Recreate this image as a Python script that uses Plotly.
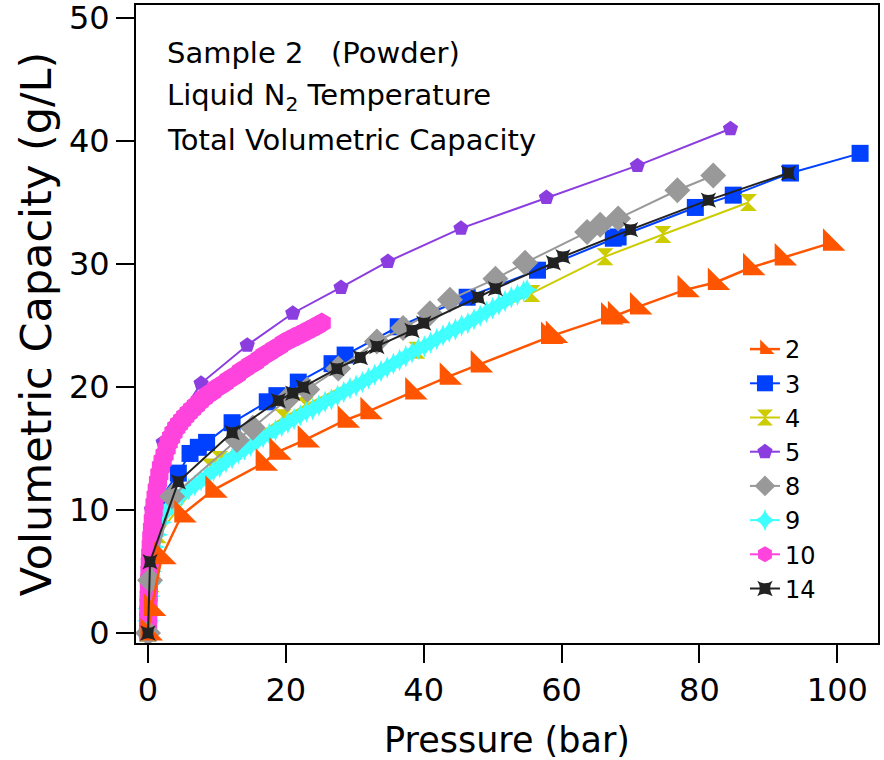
import plotly.graph_objects as go

# ---------------- data ----------------
s2_x = [0, 0.5, 2.0, 4.9, 9.4, 16.7, 18.7, 22.8, 28.6, 31.9, 38.4, 43.4, 47.9, 58.1, 58.8, 66.8, 67.8, 71.0, 77.9, 82.3, 87.4, 92.0, 99.0]
s2_y = [0, 2.0, 6.2, 9.6, 11.6, 13.8, 14.7, 15.7, 17.3, 18.0, 19.6, 20.8, 21.8, 24.1, 24.2, 25.7, 25.8, 26.5, 27.9, 28.5, 29.7, 30.5, 31.7]

s3_x = [0, 0.05, 0.2, 0.5, 1.0, 1.9, 4.4, 6.1, 7.3, 8.5, 12.2, 17.3, 18.7, 21.8, 26.7, 28.6, 36.3, 46.3, 56.5, 67.5, 68.2, 79.4, 84.9, 93.2, 103.3]
s3_y = [0, 1.5, 4.0, 7.0, 9.7, 11.0, 13.0, 14.6, 15.1, 15.5, 17.1, 18.8, 19.3, 20.4, 21.9, 22.6, 24.9, 27.3, 29.5, 32.1, 32.2, 34.6, 35.6, 37.4, 39.0]

s4_x = [0, 0.1, 0.5, 1.5, 9.0, 10.4, 19.6, 22.8, 39.0, 55.7, 66.3, 74.7, 87.1]
s4_y = [0, 1.0, 4.0, 8.0, 13.5, 14.1, 17.5, 18.5, 23.0, 27.6, 30.6, 32.4, 35.0]

s5_x = [0, 0.5, 2.2, 7.7, 14.4, 21.0, 28.0, 34.8, 45.4, 57.8, 71.0, 84.5]
s5_y = [0, 10.0, 15.5, 20.3, 23.4, 26.0, 28.1, 30.2, 32.9, 35.4, 38.0, 41.0]

s8_x = [0, 0.3, 3.5, 12.9, 15.2, 20.2, 23.1, 27.6, 33.2, 37.0, 40.9, 43.8, 50.4, 54.7, 63.7, 65.6, 68.2, 76.8, 82.0]
s8_y = [0, 4.3, 11.1, 15.7, 16.7, 19.0, 19.8, 21.5, 23.7, 24.8, 26.0, 27.1, 28.8, 30.1, 32.6, 33.2, 33.7, 36.0, 37.2]

s9_x = [0, 0.05, 0.1, 0.2, 0.3, 0.45, 0.6, 0.9, 1.3, 1.9, 2.6, 3.4, 4.2, 5.0, 5.9, 6.8, 7.7, 8.6, 9.5, 10.4,
        11.3, 12.2, 13.1, 14.0, 14.9, 15.8, 16.7, 17.6, 18.5, 19.4, 20.3, 21.2, 22.1, 23.0, 23.9, 24.8, 25.7,
        26.6, 27.5, 28.4, 29.3, 30.2, 31.1, 32.0, 32.9, 33.8, 34.7, 35.6, 36.5, 37.4, 38.3, 39.2, 40.1, 41.0,
        41.9, 42.8, 43.7, 44.6, 45.5, 46.4, 47.3, 48.2, 49.1, 50.0, 50.9, 51.8, 52.7, 53.6, 54.5, 55.0]
s9_y = [0, 1, 2, 3, 4, 5, 6, 7, 8, 9, 9.8, 10.4, 10.9, 11.3, 11.7, 12.0, 12.4, 12.8, 13.2, 13.5,
        13.9, 14.2, 14.6, 14.9, 15.2, 15.6, 15.9, 16.2, 16.5, 16.8, 17.1, 17.4, 17.7, 18.0, 18.2, 18.5, 18.8,
        19.0, 19.3, 19.6, 19.9, 20.1, 20.4, 20.7, 21.0, 21.3, 21.6, 21.9, 22.2, 22.5, 22.8, 23.1, 23.3, 23.6,
        23.9, 24.2, 24.5, 24.7, 25.0, 25.2, 25.5, 25.8, 26.1, 26.4, 26.7, 27.0, 27.3, 27.5, 27.8, 27.9]

s10_x = [0, 0.01, 0.03, 0.05, 0.07, 0.1, 0.13, 0.17, 0.21, 0.26, 0.32, 0.4, 0.48, 0.58, 0.7, 0.82, 0.95,
         1.1, 1.27, 1.45, 1.65, 1.88, 2.12, 2.4, 2.7, 3.0, 3.35, 3.7, 4.1, 4.5, 4.95, 5.4, 5.9, 6.4, 6.95,
         7.5, 8.1, 8.7, 9.3, 9.9, 10.5, 11.1, 11.7, 12.3, 12.9, 13.5, 14.1, 14.8, 15.5, 16.2, 16.9, 17.6,
         18.3, 19.0, 19.7, 20.4, 21.1, 21.8, 22.5, 23.2, 23.9, 24.6, 25.2]
s10_y = [0, 0.6, 1.2, 1.8, 2.4, 3.0, 3.6, 4.3, 5.0, 5.7, 6.4, 7.1, 7.8, 8.5, 9.2, 9.9, 10.5,
         11.1, 11.7, 12.3, 12.9, 13.5, 14.0, 14.5, 15.0, 15.5, 15.9, 16.3, 16.7, 17.0, 17.3, 17.6, 17.9, 18.2, 18.5,
         18.8, 19.1, 19.4, 19.6, 19.9, 20.1, 20.3, 20.6, 20.8, 21.0, 21.3, 21.5, 21.8, 22.0, 22.3, 22.6, 22.8,
         23.1, 23.3, 23.6, 23.8, 24.0, 24.2, 24.4, 24.6, 24.8, 25.0, 25.2]

s14_x = [0, 0.3, 4.4, 12.2, 18.9, 21.0, 22.5, 27.4, 30.8, 33.2, 38.3, 40.0, 47.9, 50.4, 58.8, 60.2, 70.0, 81.3, 92.9]
s14_y = [0, 5.8, 12.3, 16.3, 18.9, 19.5, 20.0, 21.5, 22.4, 23.3, 24.6, 25.2, 27.3, 28.0, 30.1, 30.6, 32.8, 35.2, 37.4]

x_ticks = [0, 20, 40, 60, 80, 100]
y_ticks = [0, 10, 20, 30, 40, 50]

FONT = "DejaVu Sans"

# (name, x, y, color, symbol, size, linewidth, legendrank) in drawing order
series = [
    ("5", s5_x, s5_y, "#8B3DE0", "pentagon", 16, 2, 4),
    ("3", s3_x, s3_y, "#0040FF", "square", 17, 2, 2),
    ("4", s4_x, s4_y, "#CCCC00", "hourglass", 17, 2, 3),
    ("9", s9_x, s9_y, "#40FFFF", "star-diamond", 16, 2, 6),
    ("10", s10_x, s10_y, "#FF44DD", "hexagon", 21, 2, 7),
    ("8", s8_x, s8_y, "#999999", "diamond", 20, 2, 5),
    ("2", s2_x, s2_y, "#FF5500", "triangle-sw", 25, 2.5, 1),
    ("14", s14_x, s14_y, "#222222", "star-square", 14, 2, 8),
]

fig = go.Figure()
for name, xs, ys, col, sym, sz, lw, rank in series:
    fig.add_trace(go.Scatter(
        x=xs, y=ys, name=name, mode="lines+markers",
        line=dict(color=col, width=lw),
        marker=dict(symbol=sym, size=sz, color=col, line=dict(width=0)),
        legendrank=rank,
    ))

axis_common = dict(
    showline=True, linecolor="black", linewidth=2, mirror=True,
    ticks="outside", ticklen=18, tickwidth=2, tickcolor="black",
    showgrid=False, zeroline=False, automargin=False,
    ticklabeloverflow="allow",
    tickfont=dict(family=FONT, size=32, color="black"),
)

fig.update_layout(
    width=884, height=760,
    margin=dict(l=136, r=6, t=5, b=117),
    paper_bgcolor="white", plot_bgcolor="white",
    font=dict(family=FONT, color="black"),
    xaxis=dict(range=[-1.74, 105.9], tickvals=x_ticks,
               title=dict(text="Pressure (bar)", font=dict(family=FONT, size=35), standoff=19),
               **axis_common),
    yaxis=dict(range=[-0.81, 51.06], tickvals=y_ticks,
               title=dict(text="Volumetric Capacity (g/L)", font=dict(family=FONT, size=43), standoff=4),
               **axis_common),
    legend=dict(x=0.8207, y=0.4953, xanchor="left", yanchor="top",
                bgcolor="rgba(0,0,0,0)", font=dict(family=FONT, size=24),
                traceorder="normal"),
    showlegend=True,
)

notes = ["Sample 2   (Powder)", "Liquid N<sub>2</sub> Temperature", "Total Volumetric Capacity"]
note_y = [0.9248, 0.8558, 0.7884]
for t, yy in zip(notes, note_y):
    fig.add_annotation(text=t, x=0.039, y=yy, xref="paper", yref="paper",
                       xanchor="left", yanchor="middle", showarrow=False,
                       font=dict(family=FONT, size=29, color="black"))

fig.write_html("out.html", config={"displayModeBar": False},
               post_script="document.body.style.margin='0';")
